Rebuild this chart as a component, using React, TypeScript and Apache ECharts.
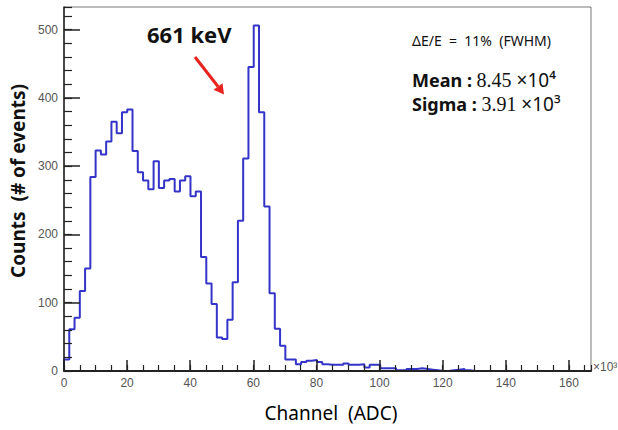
import React, { useEffect, useRef } from "react";
import * as echarts from "echarts";

// Histogram: 100 bins from 0 to 167 (x10^3 ADC channels)
const xMin = 0;
const xMax = 167;
const binValues = [
  17, 61, 78, 117, 150, 284, 323, 317, 336, 365,
  348, 379, 383, 322, 291, 279, 266, 307, 268, 279,
  281, 263, 279, 285, 256, 263, 167, 128, 98, 49,
  47, 75, 130, 220, 311, 445, 506, 379, 241, 114,
  62, 37, 17, 17, 10, 13, 15, 16, 13, 10,
  9, 9, 9, 11, 9, 9, 10, 5, 9, 9,
  4, 4, 4, 1, 1, 3, 3, 4, 3, 2,
  1, 0, 0, 1, 2, 3, 1, 0, 0, 0,
  0, 0, 0, 0, 0, 0, 0, 0, 0, 0,
  0, 0, 0, 0, 0, 0, 0, 0, 0, 0,
];
const yMax = 533;
const xMajorTicks = [0, 20, 40, 60, 80, 100, 120, 140, 160];
const yMajorTicks = [0, 100, 200, 300, 400, 500];

const peakLabel = "661 keV";
const resolutionText = "ΔE/E  =  11%  (FWHM)";
const meanValue = "8.45";
const meanExp = "×10⁴";
const sigmaValue = "3.91";
const sigmaExp = "×10³";

export default function App() {
  const ref = useRef<HTMLDivElement>(null);
  useEffect(() => {
    if (!ref.current) return;
    const chart = echarts.init(ref.current, undefined, { renderer: "svg" });
    const binWidth = (xMax - xMin) / binValues.length;
    const data: number[][] = [[xMin, 0]];
    binValues.forEach((v, i) => data.push([xMin + i * binWidth, v]));
    data.push([xMax, binValues[binValues.length - 1]]);

    const axisColor = "#222";
    const labelStyle = {
      color: "#555",
      fontSize: 12,
      fontFamily: "Liberation Sans, Arial, sans-serif",
    };
    const font = "'Noto Sans', sans-serif";

    chart.setOption({
      animation: false,
      backgroundColor: "#fff",
      grid: {
        left: 64,
        right: 27,
        top: 7,
        bottom: 59,
        show: true,
        borderColor: "#777",
        borderWidth: 1,
      },
      xAxis: [
        {
          type: "value",
          min: xMin,
          max: xMax,
          interval: 20,
          position: "bottom",
          z: 10,
          axisLine: { show: true, onZero: false, lineStyle: { color: axisColor, width: 2 } },
          axisTick: { inside: true, length: 11, lineStyle: { color: axisColor, width: 1.5 } },
          axisLabel: {
            ...labelStyle,
            margin: 6,
            showMaxLabel: false,
            formatter: (v: number) => (xMajorTicks.includes(v) ? String(v) : ""),
          },
          splitLine: { show: false },
        },
        {
          type: "value",
          min: xMin,
          max: xMax,
          interval: 5,
          position: "bottom",
          z: 10,
          axisLine: { show: false },
          axisTick: { inside: true, length: 6, lineStyle: { color: axisColor, width: 1.2 } },
          axisLabel: { show: false },
          splitLine: { show: false },
        },
      ],
      yAxis: [
        {
          type: "value",
          min: 0,
          max: yMax,
          interval: 100,
          position: "left",
          z: 10,
          axisLine: { show: true, onZero: false, lineStyle: { color: axisColor, width: 1.5 } },
          axisTick: { show: true, inside: true, length: 16, lineStyle: { color: axisColor, width: 1.5 } },
          axisLabel: {
            ...labelStyle,
            margin: 6,
            showMaxLabel: false,
            formatter: (v: number) => (yMajorTicks.includes(v) ? String(v) : ""),
          },
          splitLine: { show: false },
        },
        {
          type: "value",
          min: 0,
          max: yMax,
          interval: 20,
          position: "left",
          z: 10,
          axisLine: { show: false },
          axisTick: { show: true, inside: true, length: 8, lineStyle: { color: axisColor, width: 1.2 } },
          axisLabel: { show: false },
          splitLine: { show: false },
        },
      ],
      series: [
        {
          type: "line",
          step: "end",
          xAxisIndex: 0,
          yAxisIndex: 0,
          symbol: "none",
          data,
          lineStyle: { color: "#3434c8", width: 2 },
          z: 2,
        },
      ],
      graphic: [
        {
          type: "text",
          x: 18,
          y: 181,
          rotation: Math.PI / 2,
          style: {
            text: "Counts  (# of events)",
            font: `bold 19px ${font}`,
            fill: "#111",
            align: "center",
            verticalAlign: "middle",
          },
        },
        {
          type: "text",
          x: 331,
          y: 413,
          style: {
            text: "Channel  (ADC)",
            font: `19px ${font}`,
            fill: "#000",
            align: "center",
            verticalAlign: "middle",
          },
        },
        {
          type: "text",
          x: 593,
          y: 367,
          style: {
            text: "×10³",
            font: "12px 'Liberation Sans', Arial, sans-serif",
            fill: "#555",
            align: "left",
            verticalAlign: "middle",
          },
        },
        {
          type: "text",
          x: 147,
          y: 34,
          style: {
            text: peakLabel,
            font: `bold 22px ${font}`,
            fill: "#111",
            align: "left",
            verticalAlign: "middle",
          },
        },
        {
          type: "line",
          shape: { x1: 195, y1: 57, x2: 218, y2: 86.5 },
          style: { stroke: "#e8231f", lineWidth: 3 },
        },
        {
          type: "polygon",
          shape: { points: [[224, 94.5], [213.5, 89.8], [222.5, 83.2]] },
          style: { fill: "#e8231f" },
        },
        {
          type: "text",
          x: 412,
          y: 40,
          style: {
            text: resolutionText,
            font: `14px ${font}`,
            fill: "#111",
            align: "left",
            verticalAlign: "middle",
          },
        },
        {
          type: "text",
          x: 412,
          y: 80,
          style: {
            text: `{a|Mean : }{b|${meanValue}}{c| ${meanExp}}`,
            align: "left",
            verticalAlign: "middle",
            rich: {
              a: { font: `bold 18px ${font}`, fill: "#111" },
              b: { font: "20px 'Liberation Serif', serif", fill: "#111" },
              c: { font: `19px ${font}`, fill: "#111" },
            },
          },
        },
        {
          type: "text",
          x: 412,
          y: 104,
          style: {
            text: `{a|Sigma : }{b|${sigmaValue}}{c| ${sigmaExp}}`,
            align: "left",
            verticalAlign: "middle",
            rich: {
              a: { font: `bold 18px ${font}`, fill: "#111" },
              b: { font: "20px 'Liberation Serif', serif", fill: "#111" },
              c: { font: `19px ${font}`, fill: "#111" },
            },
          },
        },
      ],
    });
    return () => chart.dispose();
  }, []);
  return (
    <div
      ref={ref}
      style={{ position: "absolute", left: 0, top: 0, width: 618, height: 430 }}
    />
  );
}
